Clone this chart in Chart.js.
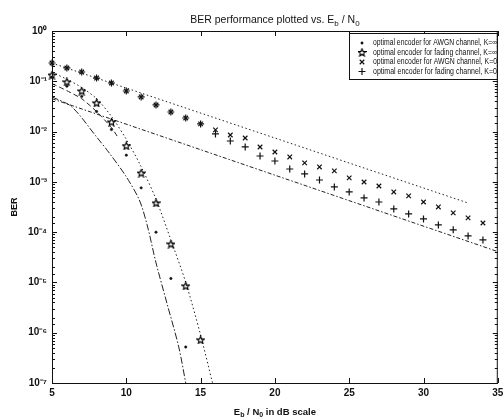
<!DOCTYPE html>
<html><head><meta charset="utf-8">
<script src="https://cdn.jsdelivr.net/npm/chart.js@4.4.0/dist/chart.umd.min.js"></script>
<style>html,body{margin:0;padding:0;background:#fff;} #wrap{width:503px;height:420px;}</style>
</head><body><div id="wrap"><canvas id="c" width="503" height="420"></canvas></div>
<script>
// ---- data ----
const snrInf = [5,6,7,8,9,10,11,12,13,14];
const berAwgnInf = [0.12,0.08,0.05,0.025,0.011,3.4e-3,7.6e-4,1.0e-4,1.2e-5,5.2e-7];
const snrStar = [5,6,7,8,9,10,11,12,13,14,15];
const berFadInf = [0.133,0.097,0.064,0.037,0.0155,5.2e-3,1.5e-3,3.8e-4,5.8e-5,8.5e-6,7.2e-7];
const snrK0 = [5,6,7,8,9,10,11,12,13,14,15,16,17,18,19,20,21,22,23,24,25,26,27,28,29,30,31,32,33,34];
const berAwgnK0 = [0.231,0.184,0.153,0.116,0.0925,0.0641,0.0488,0.0338,0.0245,0.0186,0.0142,0.0108,
  0.00855,0.00746,0.00494,0.00393,0.00313,0.00238,0.00198,0.00165,0.00120,0.000995,0.000828,0.000630,
  0.000525,0.000398,0.000317,0.000241,0.000192,0.000152];
const berFadK0 = [0.231,0.184,0.153,0.116,0.0925,0.0641,0.0488,0.0338,0.0245,0.0186,0.0142,0.00896,
  0.0065,0.00494,0.00327,0.00260,0.00180,0.00144,0.00109,0.000792,0.000630,0.000479,0.000398,0.000289,
  0.000230,0.000183,0.000139,0.000111,0.0000840,0.0000700];
// analytical curves
const curveAwgnInfX = [5,6.33,8.0,8.87,10.0,10.87,11.4,12.0,12.73,13.53,14.0];
const curveAwgnInfY = [0.049,0.031,7.8e-3,3.7e-3,1.26e-3,4.4e-4,1.4e-4,2.45e-5,3.9e-6,5.2e-7,1e-7];
const curveFadInfX = [5,6,7,8,9,10,11,12,13,14,15,15.8];
const curveFadInfY = [0.15,0.11,0.075,0.045,0.02,7e-3,2e-3,4.5e-4,7e-5,1e-5,9e-7,1e-7];
const curveDashX = [5,6,7,8,9,9.4];
const curveDashY = [0.09,0.065,0.045,0.025,0.012,0.008];
const boundAwgnK0X = [5,33];
const boundAwgnK0Y = [0.23,3.8e-4];
const boundFadK0X = [5,35];
const boundFadK0Y = [0.045,4.1e-5];
const xTicks = [5,10,15,20,25,30,35];
const legendLabels = ['optimal encoder for AWGN channel, K=\u221E','optimal encoder for fading channel, K=\u221E',
  'optimal encoder for AWGN channel, K=0','optimal encoder for fading channel, K=0'];
const titleParts = ['BER performance plotted vs. E','b',' / N','0'];
const xTitleParts = ['E','b',' / N','0',' in dB scale'];
const yTitle = 'BER';

const pts = (xs, ys) => xs.map((x,i)=>({x:x,y:ys[i]}));
const FONT = '"Liberation Sans", Arial, sans-serif';
const INK = '#111';

// pentagram marker
function makeStar(){
  const c = document.createElement('canvas'); c.width = 9; c.height = 9;
  const g = c.getContext('2d');
  g.beginPath();
  for (let i=0;i<10;i++){
    const r = i%2===0 ? 4 : 1.7;
    const a = -Math.PI/2 + i*Math.PI/5;
    const px = 4.5 + r*Math.cos(a), py = 4.8 + r*Math.sin(a);
    if(i===0) g.moveTo(px,py); else g.lineTo(px,py);
  }
  g.closePath(); g.strokeStyle = '#000'; g.lineWidth = 1.1; g.stroke();
  return c;
}
const starImg = makeStar();

const sup = {'0':'\u2070','1':'\u00B9','2':'\u00B2','3':'\u00B3','4':'\u2074','5':'\u2075','6':'\u2076','7':'\u2077','8':'\u2078','9':'\u2079','-':'\u207B'};
function isDecade(v){ const l = Math.log10(v); return Math.abs(l-Math.round(l))<1e-6; }

function drawParts(ctx, parts, cx, cy, size, weight){
  const big = weight+' '+size+'px '+FONT, small = weight+' '+Math.round(size*0.75)+'px '+FONT;
  let total = 0;
  parts.forEach((p,i)=>{ ctx.font = (i%2===1)?small:big; total += ctx.measureText(p).width; });
  let x = cx - total/2;
  ctx.textBaseline = 'middle'; ctx.textAlign = 'left'; ctx.fillStyle = INK;
  parts.forEach((p,i)=>{
    const sub = i%2===1;
    ctx.font = sub?small:big;
    ctx.fillText(p, x, cy + (sub? size*0.35:0));
    x += ctx.measureText(p).width;
  });
}

const decor = {
  id:'decor',
  afterDraw(chart){
    const ctx = chart.ctx, a = chart.chartArea;
    const xs = chart.scales.x, ys = chart.scales.y;
    ctx.save();
    ctx.strokeStyle = INK; ctx.lineWidth = 1;
    ctx.strokeRect(a.left+0.5, a.top+0.5, a.right-a.left-1, a.bottom-a.top);
    ctx.beginPath();
    xTicks.forEach(v=>{
      const p = Math.round(xs.getPixelForValue(v))+0.5;
      ctx.moveTo(p,a.bottom); ctx.lineTo(p,a.bottom-5);
      ctx.moveTo(p,a.top); ctx.lineTo(p,a.top+5);
    });
    ys.ticks.forEach(t=>{
      const p = Math.round(ys.getPixelForValue(t.value))+0.5;
      const L = isDecade(t.value)?5:3;
      ctx.moveTo(a.left,p); ctx.lineTo(a.left+L,p);
      ctx.moveTo(a.right,p); ctx.lineTo(a.right-L,p);
    });
    ctx.stroke();
    // titles
    drawParts(ctx, titleParts, (a.left+a.right)/2, 20, 10.5, 'normal');
    drawParts(ctx, xTitleParts, (a.left+a.right)/2, 412, 9.5, 'bold');
    // legend
    const lx = 349, ly = 33, lw = a.right-1-lx, lh = 46;
    ctx.fillStyle = '#fff'; ctx.fillRect(lx,ly,lw,lh);
    ctx.strokeRect(lx+0.5, ly+0.5, lw, lh);
    const marks = chart.data.datasets.slice(0,4);
    legendLabels.forEach((lab,i)=>{
      const y = 43 + i*9.5;
      const d = marks[i];
      ctx.fillStyle = INK; ctx.strokeStyle = INK; ctx.lineWidth = d.borderWidth||1;
      Chart.helpers.drawPoint(ctx, {pointStyle:d.pointStyle, radius:d.pointRadius, rotation:0, borderWidth:d.borderWidth}, 362, y);
      ctx.font = '8.5px '+FONT; ctx.textBaseline='middle'; ctx.textAlign='left'; ctx.fillStyle = INK;
      ctx.fillText(lab, 373, y, 124);
    });
    ctx.restore();
  }
};

const mk = (data, style, r, bw) => ({data, showLine:false, pointStyle:style, pointRadius:r, borderWidth:bw,
  borderColor:INK, backgroundColor:INK, clip:false});
const ln = (data, dash, tension) => ({data, showLine:true, pointRadius:0, borderWidth:1, borderColor:'#222',
  borderDash:dash, tension:tension||0, clip:false, fill:false});

new Chart(document.getElementById('c'), {
  type:'scatter',
  data:{datasets:[
    mk(pts(snrInf,berAwgnInf),'circle',1.2,0.5),
    mk(pts(snrStar,berFadInf),starImg,4,1),
    mk(pts(snrK0,berAwgnK0),'crossRot',3.2,1.2),
    mk(pts(snrK0,berFadK0),'cross',3.5,1.2),
    ln(pts(curveAwgnInfX,curveAwgnInfY),[7,2,1.5,2],0.3),
    ln(pts(curveFadInfX,curveFadInfY),[1.5,2.5],0.3),
    ln(pts(curveDashX,curveDashY),[5,3],0.2),
    ln(pts(boundAwgnK0X,boundAwgnK0Y),[1.5,2.5]),
    ln(pts(boundFadK0X,boundFadK0Y),[4,2,1.5,2])
  ]},
  options:{
    responsive:false, animation:false, devicePixelRatio:1,
    layout:{padding:{top:31,left:0,right:1,bottom:0}},
    plugins:{legend:{display:false}, title:{display:false}, tooltip:{enabled:false}},
    scales:{
      x:{type:'linear', min:5, max:35,
        afterBuildTicks(s){ s.ticks = xTicks.map(v=>({value:v})); },
        afterFit(s){ s.height = 37; s.paddingLeft = 0; s.paddingRight = 0; },
        grid:{display:false, drawTicks:false}, border:{display:false},
        ticks:{padding:4, color:INK, font:{family:FONT,size:10,weight:'bold'}, maxRotation:0, autoSkip:false}
      },
      y:{type:'logarithmic', min:1e-7, max:1,
        afterFit(s){ s.width = 52; s.paddingTop = 0; s.paddingBottom = 0; },
        grid:{display:false, drawTicks:false}, border:{display:false},
        title:{display:true, text:yTitle, color:INK, font:{family:FONT,size:9,weight:'bold'}, padding:{top:9,bottom:0}},
        ticks:{padding:5, color:INK, autoSkip:false, font:{family:FONT,size:10,weight:'bold'},
          callback(v){ if(!isDecade(v)) return ''; const e = String(Math.round(Math.log10(v))); return '10'+e.split('').map(c=>sup[c]).join(''); }
        }
      }
    }
  },
  plugins:[decor]
});
</script>
</body></html>
